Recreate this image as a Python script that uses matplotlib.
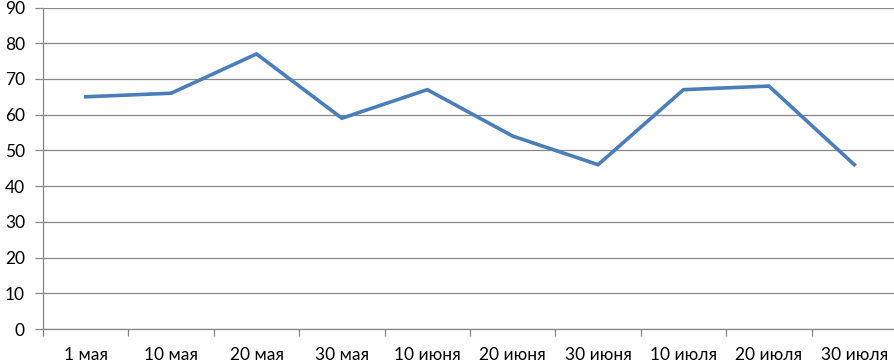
import numpy as np
import matplotlib.pyplot as plt

plt.rcParams['font.family'] = ['Lato', 'DejaVu Sans']

dates = ['1 мая', '10 мая', '20 мая', '30 мая', '10 июня', '20 июня',
         '30 июня', '10 июля', '20 июля', '30 июля']
values = [65, 66, 77, 59, 67, 54, 46, 67, 68, 46]
yticks = [0, 10, 20, 30, 40, 50, 60, 70, 80, 90]

grey = '#868686'

fig = plt.figure(figsize=(8.94, 3.62), dpi=100)
ax = fig.add_axes([43/894, 33/362, 854/894, 321.5/362])

x = np.arange(len(dates)) + 0.5
ax.plot(x, values, color='#4A7EBB', linewidth=2.6, solid_joinstyle='miter')

ax.set_xlim(0, len(dates))
ax.set_ylim(0, 90)
ax.set_yticks(yticks)
ax.set_yticklabels([str(v) for v in yticks])
ax.grid(axis='y', color=grey, linewidth=0.9)
ax.set_axisbelow(True)

ax.set_xticks(np.arange(len(dates) + 1))
ax.set_xticklabels([])
ax.set_xticks(x, minor=True)
ax.set_xticklabels(dates, minor=True)
ax.tick_params(axis='x', which='major', length=5, color=grey, width=0.9)
ax.tick_params(axis='x', which='minor', length=0, pad=13, labelsize=12.5)
ax.tick_params(axis='y', length=6, color=grey, width=0.9, pad=7, labelsize=12.5)

for s in ['top', 'right']:
    ax.spines[s].set_visible(False)
for s in ['left', 'bottom']:
    ax.spines[s].set_color(grey)
    ax.spines[s].set_linewidth(0.9)

fig.savefig('out.png', dpi=100)
